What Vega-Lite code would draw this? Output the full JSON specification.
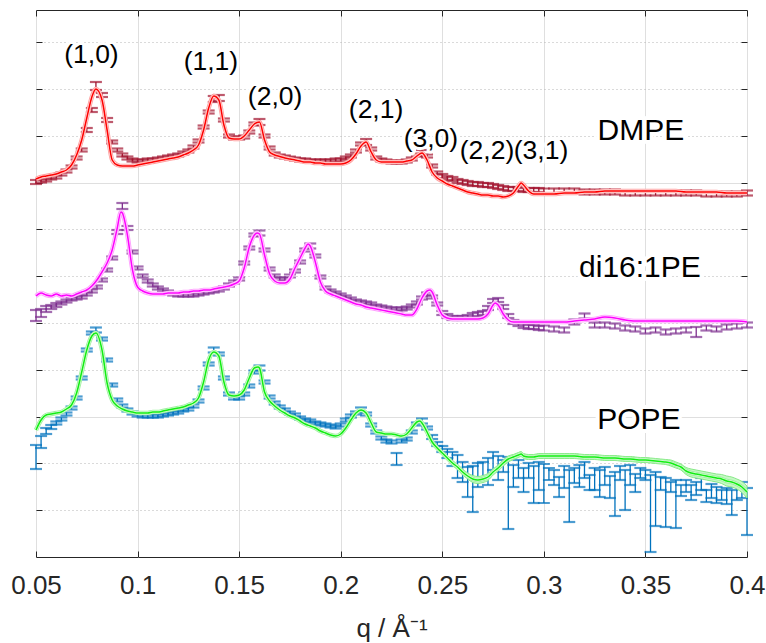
{
"$schema": "https://vega.github.io/schema/vega-lite/v6.json",
"width": 711, "height": 547,
"autosize": {"type": "none"},
"padding": {"left": 36, "top": 10, "right": 19, "bottom": 86},
"background": "white",
"config": {"view": {"stroke": "#262626", "strokeWidth": 1}, "font": "Liberation Sans"},
"data": {"values": [
{"s":"DMPE","q":0.05,"lo":37.3,"hi":37.7,"f":37.8},
{"s":"DMPE","q":0.0525,"lo":37.45,"hi":37.75,"f":38.0},
{"s":"DMPE","q":0.055,"lo":37.55,"hi":37.85,"f":38.1},
{"s":"DMPE","q":0.0575,"lo":37.75,"hi":38.05,"f":38.2},
{"s":"DMPE","q":0.06,"lo":37.85,"hi":38.15,"f":38.3},
{"s":"DMPE","q":0.0625,"lo":38.15,"hi":38.45,"f":38.5},
{"s":"DMPE","q":0.065,"lo":38.45,"hi":38.75,"f":38.7},
{"s":"DMPE","q":0.0675,"lo":38.85,"hi":39.15,"f":39.2},
{"s":"DMPE","q":0.07,"lo":39.75,"hi":40.05,"f":40.2},
{"s":"DMPE","q":0.0725,"lo":40.55,"hi":40.85,"f":41.7},
{"s":"DMPE","q":0.075,"lo":42.5,"hi":42.9,"f":43.9},
{"s":"DMPE","q":0.0775,"lo":44.5,"hi":44.9,"f":46.0},
{"s":"DMPE","q":0.0795,"lo":46.7,"hi":47.5,"f":46.8},
{"s":"DMPE","q":0.0825,"lo":46.0,"hi":46.4,"f":45.7},
{"s":"DMPE","q":0.085,"lo":43.5,"hi":43.9,"f":42.7},
{"s":"DMPE","q":0.0875,"lo":41.35,"hi":41.65,"f":39.7},
{"s":"DMPE","q":0.09,"lo":40.55,"hi":40.85,"f":39.2},
{"s":"DMPE","q":0.0925,"lo":40.05,"hi":40.35,"f":39.1},
{"s":"DMPE","q":0.095,"lo":39.75,"hi":40.05,"f":39.1},
{"s":"DMPE","q":0.0975,"lo":39.55,"hi":39.85,"f":39.1},
{"s":"DMPE","q":0.1,"lo":39.45,"hi":39.75,"f":39.2},
{"s":"DMPE","q":0.1025,"lo":39.45,"hi":39.75,"f":39.3},
{"s":"DMPE","q":0.105,"lo":39.55,"hi":39.85,"f":39.4},
{"s":"DMPE","q":0.1075,"lo":39.55,"hi":39.85,"f":39.5},
{"s":"DMPE","q":0.11,"lo":39.65,"hi":39.95,"f":39.6},
{"s":"DMPE","q":0.1125,"lo":39.75,"hi":40.05,"f":39.7},
{"s":"DMPE","q":0.115,"lo":39.85,"hi":40.15,"f":39.8},
{"s":"DMPE","q":0.1175,"lo":39.95,"hi":40.25,"f":39.9},
{"s":"DMPE","q":0.12,"lo":40.05,"hi":40.35,"f":40.0},
{"s":"DMPE","q":0.1225,"lo":40.25,"hi":40.55,"f":40.2},
{"s":"DMPE","q":0.125,"lo":40.45,"hi":40.75,"f":40.4},
{"s":"DMPE","q":0.1275,"lo":40.85,"hi":41.15,"f":40.7},
{"s":"DMPE","q":0.13,"lo":41.45,"hi":41.75,"f":41.2},
{"s":"DMPE","q":0.1325,"lo":42.85,"hi":43.15,"f":42.7},
{"s":"DMPE","q":0.135,"lo":44.35,"hi":44.65,"f":44.9},
{"s":"DMPE","q":0.1375,"lo":45.5,"hi":46.1,"f":46.1},
{"s":"DMPE","q":0.14,"lo":45.6,"hi":46.2,"f":45.7},
{"s":"DMPE","q":0.1425,"lo":43.55,"hi":43.85,"f":43.2},
{"s":"DMPE","q":0.145,"lo":41.95,"hi":42.25,"f":41.9},
{"s":"DMPE","q":0.1475,"lo":41.75,"hi":42.05,"f":41.8},
{"s":"DMPE","q":0.15,"lo":41.75,"hi":42.05,"f":41.8},
{"s":"DMPE","q":0.1525,"lo":41.85,"hi":42.15,"f":42.1},
{"s":"DMPE","q":0.155,"lo":42.35,"hi":42.65,"f":42.7},
{"s":"DMPE","q":0.1575,"lo":43.15,"hi":43.45,"f":43.3},
{"s":"DMPE","q":0.16,"lo":43.2,"hi":43.8,"f":43.5},
{"s":"DMPE","q":0.1625,"lo":41.95,"hi":42.25,"f":41.7},
{"s":"DMPE","q":0.165,"lo":40.75,"hi":41.05,"f":40.5},
{"s":"DMPE","q":0.1675,"lo":40.15,"hi":40.45,"f":40.2},
{"s":"DMPE","q":0.17,"lo":39.95,"hi":40.25,"f":40.05},
{"s":"DMPE","q":0.1725,"lo":39.85,"hi":40.15,"f":39.9},
{"s":"DMPE","q":0.175,"lo":39.75,"hi":40.05,"f":39.8},
{"s":"DMPE","q":0.1775,"lo":39.65,"hi":39.95,"f":39.7},
{"s":"DMPE","q":0.18,"lo":39.55,"hi":39.85,"f":39.6},
{"s":"DMPE","q":0.1825,"lo":39.55,"hi":39.85,"f":39.5},
{"s":"DMPE","q":0.185,"lo":39.45,"hi":39.75,"f":39.5},
{"s":"DMPE","q":0.1875,"lo":39.45,"hi":39.75,"f":39.4},
{"s":"DMPE","q":0.19,"lo":39.45,"hi":39.75,"f":39.4},
{"s":"DMPE","q":0.1925,"lo":39.45,"hi":39.75,"f":39.3},
{"s":"DMPE","q":0.195,"lo":39.45,"hi":39.75,"f":39.3},
{"s":"DMPE","q":0.1975,"lo":39.55,"hi":39.85,"f":39.3},
{"s":"DMPE","q":0.2,"lo":39.55,"hi":39.85,"f":39.3},
{"s":"DMPE","q":0.2025,"lo":39.75,"hi":40.05,"f":39.4},
{"s":"DMPE","q":0.205,"lo":39.95,"hi":40.25,"f":39.7},
{"s":"DMPE","q":0.2075,"lo":40.45,"hi":40.75,"f":40.3},
{"s":"DMPE","q":0.21,"lo":41.15,"hi":41.45,"f":41.1},
{"s":"DMPE","q":0.2125,"lo":41.2,"hi":41.8,"f":41.5},
{"s":"DMPE","q":0.215,"lo":40.65,"hi":40.95,"f":40.5},
{"s":"DMPE","q":0.2175,"lo":39.75,"hi":40.05,"f":39.7},
{"s":"DMPE","q":0.22,"lo":39.55,"hi":39.85,"f":39.5},
{"s":"DMPE","q":0.2225,"lo":39.45,"hi":39.75,"f":39.5},
{"s":"DMPE","q":0.225,"lo":39.35,"hi":39.65,"f":39.5},
{"s":"DMPE","q":0.2275,"lo":39.35,"hi":39.65,"f":39.5},
{"s":"DMPE","q":0.23,"lo":39.35,"hi":39.65,"f":39.5},
{"s":"DMPE","q":0.2325,"lo":39.45,"hi":39.75,"f":39.6},
{"s":"DMPE","q":0.235,"lo":39.65,"hi":39.95,"f":39.7},
{"s":"DMPE","q":0.2375,"lo":40.05,"hi":40.35,"f":40.1},
{"s":"DMPE","q":0.24,"lo":40.1,"hi":40.7,"f":40.4},
{"s":"DMPE","q":0.2425,"lo":39.95,"hi":40.25,"f":39.7},
{"s":"DMPE","q":0.245,"lo":38.95,"hi":39.25,"f":38.5},
{"s":"DMPE","q":0.2475,"lo":38.25,"hi":38.55,"f":37.9},
{"s":"DMPE","q":0.25,"lo":37.9,"hi":38.3,"f":37.6},
{"s":"DMPE","q":0.2525,"lo":37.7,"hi":38.1,"f":37.3},
{"s":"DMPE","q":0.255,"lo":37.6,"hi":38.0,"f":37.1},
{"s":"DMPE","q":0.2575,"lo":37.4,"hi":37.8,"f":36.9},
{"s":"DMPE","q":0.26,"lo":37.3,"hi":37.7,"f":36.7},
{"s":"DMPE","q":0.2625,"lo":37.2,"hi":37.6,"f":36.5},
{"s":"DMPE","q":0.265,"lo":37.1,"hi":37.5,"f":36.4},
{"s":"DMPE","q":0.2675,"lo":37.1,"hi":37.5,"f":36.3},
{"s":"DMPE","q":0.27,"lo":37.0,"hi":37.4,"f":36.2},
{"s":"DMPE","q":0.2725,"lo":37.0,"hi":37.4,"f":36.2},
{"s":"DMPE","q":0.275,"lo":36.9,"hi":37.3,"f":36.1},
{"s":"DMPE","q":0.2775,"lo":36.8,"hi":37.2,"f":36.1},
{"s":"DMPE","q":0.28,"lo":36.7,"hi":37.1,"f":36.0},
{"s":"DMPE","q":0.2825,"lo":36.6,"hi":37.0,"f":36.1},
{"s":"DMPE","q":0.285,"lo":36.6,"hi":37.0,"f":36.4},
{"s":"DMPE","q":0.2875,"lo":36.6,"hi":37.0,"f":37.1},
{"s":"DMPE","q":0.2888,"f":37.4},
{"s":"DMPE","q":0.29,"lo":36.5,"hi":36.9,"f":37.2},
{"s":"DMPE","q":0.2925,"lo":36.5,"hi":36.9,"f":36.6},
{"s":"DMPE","q":0.295,"lo":36.5,"hi":36.9,"f":36.3},
{"s":"DMPE","q":0.2975,"lo":36.5,"hi":36.9,"f":36.3},
{"s":"DMPE","q":0.3,"lo":36.35,"hi":36.85,"f":36.3},
{"s":"DMPE","q":0.305,"lo":36.35,"hi":36.85,"f":36.3},
{"s":"DMPE","q":0.31,"lo":36.35,"hi":36.85,"f":36.4},
{"s":"DMPE","q":0.315,"lo":36.35,"hi":36.85,"f":36.4},
{"s":"DMPE","q":0.32,"lo":36.25,"hi":36.75,"f":36.5},
{"s":"DMPE","q":0.325,"lo":36.25,"hi":36.75,"f":36.5},
{"s":"DMPE","q":0.33,"lo":36.25,"hi":36.75,"f":36.6},
{"s":"DMPE","q":0.335,"lo":36.25,"hi":36.75,"f":36.6},
{"s":"DMPE","q":0.34,"lo":36.15,"hi":36.65,"f":36.6},
{"s":"DMPE","q":0.345,"lo":36.15,"hi":36.65,"f":36.6},
{"s":"DMPE","q":0.35,"lo":36.15,"hi":36.65,"f":36.6},
{"s":"DMPE","q":0.355,"lo":36.15,"hi":36.65,"f":36.6},
{"s":"DMPE","q":0.36,"lo":36.15,"hi":36.65,"f":36.6},
{"s":"DMPE","q":0.365,"lo":36.15,"hi":36.65,"f":36.6},
{"s":"DMPE","q":0.37,"lo":36.15,"hi":36.65,"f":36.5},
{"s":"DMPE","q":0.375,"lo":36.15,"hi":36.65,"f":36.5},
{"s":"DMPE","q":0.38,"lo":36.05,"hi":36.55,"f":36.5},
{"s":"DMPE","q":0.385,"lo":36.05,"hi":36.55,"f":36.5},
{"s":"DMPE","q":0.39,"lo":36.05,"hi":36.55,"f":36.4},
{"s":"DMPE","q":0.395,"lo":36.05,"hi":36.55,"f":36.4},
{"s":"DMPE","q":0.4,"lo":36.15,"hi":36.65,"f":36.4},
{"s":"di16","q":0.05,"lo":23.6,"hi":24.7,"f":26.1},
{"s":"di16","q":0.0525,"lo":24.0,"hi":24.8,"f":26.4},
{"s":"di16","q":0.055,"lo":24.5,"hi":25.1,"f":26.2},
{"s":"di16","q":0.0575,"lo":24.8,"hi":25.2,"f":26.1},
{"s":"di16","q":0.06,"lo":25.0,"hi":25.4,"f":26.3},
{"s":"di16","q":0.0625,"lo":25.25,"hi":25.55,"f":26.1},
{"s":"di16","q":0.065,"lo":25.45,"hi":25.75,"f":26.2},
{"s":"di16","q":0.0675,"lo":25.65,"hi":25.95,"f":26.1},
{"s":"di16","q":0.07,"lo":25.75,"hi":26.05,"f":26.3},
{"s":"di16","q":0.0725,"lo":25.85,"hi":26.15,"f":26.5},
{"s":"di16","q":0.075,"lo":26.15,"hi":26.45,"f":26.7},
{"s":"di16","q":0.0775,"lo":26.45,"hi":26.75,"f":27.1},
{"s":"di16","q":0.08,"lo":26.85,"hi":27.15,"f":27.7},
{"s":"di16","q":0.0825,"lo":27.55,"hi":27.85,"f":28.5},
{"s":"di16","q":0.085,"lo":28.55,"hi":28.85,"f":29.4},
{"s":"di16","q":0.0875,"lo":29.75,"hi":30.05,"f":30.7},
{"s":"di16","q":0.09,"lo":32.3,"hi":32.7,"f":32.9},
{"s":"di16","q":0.0918,"f":34.5},
{"s":"di16","q":0.0925,"lo":34.8,"hi":35.4,"f":34.4},
{"s":"di16","q":0.095,"lo":32.7,"hi":33.1,"f":32.2},
{"s":"di16","q":0.0975,"lo":30.35,"hi":30.65,"f":28.7},
{"s":"di16","q":0.1,"lo":28.75,"hi":29.05,"f":27.0},
{"s":"di16","q":0.1025,"lo":27.95,"hi":28.25,"f":26.6},
{"s":"di16","q":0.105,"lo":27.45,"hi":27.75,"f":26.4},
{"s":"di16","q":0.1075,"lo":27.05,"hi":27.35,"f":26.3},
{"s":"di16","q":0.11,"lo":26.75,"hi":27.05,"f":26.3},
{"s":"di16","q":0.1125,"lo":26.55,"hi":26.85,"f":26.3},
{"s":"di16","q":0.115,"lo":26.35,"hi":26.65,"f":26.4},
{"s":"di16","q":0.1175,"lo":26.15,"hi":26.45,"f":26.4},
{"s":"di16","q":0.12,"lo":26.05,"hi":26.35,"f":26.4},
{"s":"di16","q":0.1225,"lo":26.05,"hi":26.35,"f":26.5},
{"s":"di16","q":0.125,"lo":26.05,"hi":26.35,"f":26.5},
{"s":"di16","q":0.1275,"lo":26.05,"hi":26.35,"f":26.6},
{"s":"di16","q":0.13,"lo":26.15,"hi":26.45,"f":26.6},
{"s":"di16","q":0.1325,"lo":26.25,"hi":26.55,"f":26.7},
{"s":"di16","q":0.135,"lo":26.35,"hi":26.65,"f":26.7},
{"s":"di16","q":0.1375,"lo":26.45,"hi":26.75,"f":26.8},
{"s":"di16","q":0.14,"lo":26.55,"hi":26.85,"f":26.9},
{"s":"di16","q":0.1425,"lo":26.75,"hi":27.05,"f":27.0},
{"s":"di16","q":0.145,"lo":27.05,"hi":27.35,"f":27.1},
{"s":"di16","q":0.1475,"lo":27.35,"hi":27.65,"f":27.3},
{"s":"di16","q":0.15,"lo":27.65,"hi":27.95,"f":27.6},
{"s":"di16","q":0.1525,"lo":29.25,"hi":29.55,"f":28.9},
{"s":"di16","q":0.155,"lo":30.75,"hi":31.05,"f":31.0},
{"s":"di16","q":0.1575,"lo":32.05,"hi":32.35,"f":32.2},
{"s":"di16","q":0.1588,"f":32.4},
{"s":"di16","q":0.16,"lo":32.15,"hi":32.65,"f":32.3},
{"s":"di16","q":0.1625,"lo":30.55,"hi":30.85,"f":30.2},
{"s":"di16","q":0.165,"lo":28.65,"hi":28.95,"f":28.3},
{"s":"di16","q":0.1675,"lo":27.95,"hi":28.25,"f":27.6},
{"s":"di16","q":0.17,"lo":27.65,"hi":27.95,"f":27.4},
{"s":"di16","q":0.1725,"lo":27.65,"hi":27.95,"f":27.4},
{"s":"di16","q":0.175,"lo":27.95,"hi":28.25,"f":27.8},
{"s":"di16","q":0.1775,"lo":28.45,"hi":28.75,"f":28.9},
{"s":"di16","q":0.18,"lo":29.35,"hi":29.65,"f":29.9},
{"s":"di16","q":0.1825,"lo":30.55,"hi":30.85,"f":30.9},
{"s":"di16","q":0.1839,"f":31.3},
{"s":"di16","q":0.185,"lo":30.85,"hi":31.35,"f":31.1},
{"s":"di16","q":0.1875,"lo":29.95,"hi":30.25,"f":29.5},
{"s":"di16","q":0.19,"lo":27.85,"hi":28.15,"f":27.5},
{"s":"di16","q":0.1925,"lo":26.75,"hi":27.05,"f":26.6},
{"s":"di16","q":0.195,"lo":26.45,"hi":26.75,"f":26.3},
{"s":"di16","q":0.1975,"lo":26.25,"hi":26.55,"f":26.1},
{"s":"di16","q":0.2,"lo":26.05,"hi":26.35,"f":25.9},
{"s":"di16","q":0.2025,"lo":25.85,"hi":26.15,"f":25.7},
{"s":"di16","q":0.205,"lo":25.65,"hi":25.95,"f":25.5},
{"s":"di16","q":0.2075,"lo":25.45,"hi":25.75,"f":25.3},
{"s":"di16","q":0.21,"lo":25.35,"hi":25.65,"f":25.2},
{"s":"di16","q":0.2125,"lo":25.25,"hi":25.55,"f":25.0},
{"s":"di16","q":0.215,"lo":25.15,"hi":25.45,"f":24.9},
{"s":"di16","q":0.2175,"lo":24.95,"hi":25.25,"f":24.8},
{"s":"di16","q":0.22,"lo":24.85,"hi":25.15,"f":24.7},
{"s":"di16","q":0.2225,"lo":24.75,"hi":25.05,"f":24.6},
{"s":"di16","q":0.225,"lo":24.65,"hi":24.95,"f":24.5},
{"s":"di16","q":0.2275,"lo":24.65,"hi":24.95,"f":24.4},
{"s":"di16","q":0.23,"lo":24.65,"hi":24.95,"f":24.3},
{"s":"di16","q":0.2325,"lo":24.75,"hi":25.05,"f":24.2},
{"s":"di16","q":0.235,"lo":24.95,"hi":25.25,"f":24.2},
{"s":"di16","q":0.2375,"lo":25.25,"hi":25.55,"f":24.8},
{"s":"di16","q":0.24,"lo":25.75,"hi":26.05,"f":25.9},
{"s":"di16","q":0.2425,"lo":26.15,"hi":26.45,"f":26.6},
{"s":"di16","q":0.244,"f":26.7},
{"s":"di16","q":0.245,"lo":25.85,"hi":26.15,"f":26.5},
{"s":"di16","q":0.2475,"lo":25.15,"hi":25.45,"f":25.2},
{"s":"di16","q":0.25,"lo":24.2,"hi":24.6,"f":24.2},
{"s":"di16","q":0.2525,"lo":23.9,"hi":24.3,"f":23.9},
{"s":"di16","q":0.255,"lo":23.7,"hi":24.1,"f":23.8},
{"s":"di16","q":0.2575,"lo":23.7,"hi":24.1,"f":23.8},
{"s":"di16","q":0.26,"lo":23.7,"hi":24.1,"f":23.8},
{"s":"di16","q":0.2625,"lo":23.8,"hi":24.2,"f":23.8},
{"s":"di16","q":0.265,"lo":24.0,"hi":24.4,"f":23.8},
{"s":"di16","q":0.2675,"lo":24.1,"hi":24.5,"f":23.8},
{"s":"di16","q":0.27,"lo":24.2,"hi":24.6,"f":23.9},
{"s":"di16","q":0.2725,"lo":24.7,"hi":25.1,"f":24.3},
{"s":"di16","q":0.275,"lo":25.4,"hi":25.8,"f":25.2},
{"s":"di16","q":0.276,"f":25.4},
{"s":"di16","q":0.2775,"lo":25.5,"hi":25.9,"f":25.2},
{"s":"di16","q":0.28,"lo":24.8,"hi":25.2,"f":24.3},
{"s":"di16","q":0.2825,"lo":23.9,"hi":24.3,"f":23.7},
{"s":"di16","q":0.285,"lo":23.3,"hi":23.7,"f":23.5},
{"s":"di16","q":0.2875,"lo":23.1,"hi":23.5,"f":23.5},
{"s":"di16","q":0.29,"lo":22.9,"hi":23.3,"f":23.5},
{"s":"di16","q":0.2925,"lo":22.8,"hi":23.2,"f":23.5},
{"s":"di16","q":0.295,"lo":22.8,"hi":23.2,"f":23.5},
{"s":"di16","q":0.2975,"lo":22.7,"hi":23.1,"f":23.5},
{"s":"di16","q":0.3,"lo":22.65,"hi":23.15,"f":23.5},
{"s":"di16","q":0.305,"lo":22.55,"hi":23.05,"f":23.5},
{"s":"di16","q":0.31,"lo":22.45,"hi":22.95,"f":23.5},
{"s":"di16","q":0.315,"lo":23.25,"hi":23.75,"f":23.6},
{"s":"di16","q":0.32,"lo":23.85,"hi":24.35,"f":23.7},
{"s":"di16","q":0.325,"lo":22.95,"hi":23.45,"f":23.8},
{"s":"di16","q":0.33,"lo":22.95,"hi":23.45,"f":24.0},
{"s":"di16","q":0.335,"lo":22.85,"hi":23.35,"f":23.9},
{"s":"di16","q":0.34,"lo":22.65,"hi":23.15,"f":23.7},
{"s":"di16","q":0.345,"lo":22.55,"hi":23.05,"f":23.6},
{"s":"di16","q":0.35,"lo":22.35,"hi":22.85,"f":23.6},
{"s":"di16","q":0.355,"lo":22.45,"hi":22.95,"f":23.6},
{"s":"di16","q":0.36,"lo":22.25,"hi":22.75,"f":23.6},
{"s":"di16","q":0.365,"lo":22.35,"hi":22.85,"f":23.6},
{"s":"di16","q":0.37,"lo":22.45,"hi":22.95,"f":23.6},
{"s":"di16","q":0.375,"lo":22.0,"hi":23.0,"f":23.6},
{"s":"di16","q":0.38,"lo":22.65,"hi":23.15,"f":23.6},
{"s":"di16","q":0.385,"lo":22.55,"hi":23.05,"f":23.6},
{"s":"di16","q":0.39,"lo":22.75,"hi":23.25,"f":23.6},
{"s":"di16","q":0.395,"lo":22.85,"hi":23.35,"f":23.6},
{"s":"di16","q":0.4,"lo":22.95,"hi":23.45,"f":23.5},
{"s":"POPE","q":0.05,"lo":8.8,"hi":11.2,"f":12.7},
{"s":"POPE","q":0.0525,"lo":10.9,"hi":12.1,"f":13.7},
{"s":"POPE","q":0.055,"lo":12.3,"hi":12.9,"f":14.2},
{"s":"POPE","q":0.0575,"lo":12.8,"hi":13.2,"f":14.3},
{"s":"POPE","q":0.06,"lo":13.25,"hi":13.55,"f":14.4},
{"s":"POPE","q":0.0625,"lo":13.65,"hi":13.95,"f":14.5},
{"s":"POPE","q":0.065,"lo":14.15,"hi":14.45,"f":14.8},
{"s":"POPE","q":0.0675,"lo":14.75,"hi":15.05,"f":15.2},
{"s":"POPE","q":0.07,"lo":15.75,"hi":16.05,"f":16.4},
{"s":"POPE","q":0.0725,"lo":17.75,"hi":18.05,"f":18.5},
{"s":"POPE","q":0.075,"lo":20.55,"hi":20.85,"f":20.7},
{"s":"POPE","q":0.0775,"lo":22.25,"hi":22.55,"f":22.1},
{"s":"POPE","q":0.0795,"lo":22.45,"hi":22.95,"f":22.4},
{"s":"POPE","q":0.0825,"lo":21.65,"hi":21.95,"f":20.7},
{"s":"POPE","q":0.085,"lo":19.55,"hi":19.85,"f":17.4},
{"s":"POPE","q":0.0875,"lo":17.05,"hi":17.35,"f":15.7},
{"s":"POPE","q":0.09,"lo":15.55,"hi":15.85,"f":15.1},
{"s":"POPE","q":0.0925,"lo":14.95,"hi":15.25,"f":14.8},
{"s":"POPE","q":0.095,"lo":14.55,"hi":14.85,"f":14.6},
{"s":"POPE","q":0.0975,"lo":14.25,"hi":14.55,"f":14.5},
{"s":"POPE","q":0.1,"lo":14.05,"hi":14.35,"f":14.4},
{"s":"POPE","q":0.1025,"lo":13.95,"hi":14.25,"f":14.4},
{"s":"POPE","q":0.105,"lo":13.95,"hi":14.25,"f":14.4},
{"s":"POPE","q":0.1075,"lo":13.95,"hi":14.25,"f":14.5},
{"s":"POPE","q":0.11,"lo":13.95,"hi":14.25,"f":14.5},
{"s":"POPE","q":0.1125,"lo":14.05,"hi":14.35,"f":14.6},
{"s":"POPE","q":0.115,"lo":14.15,"hi":14.45,"f":14.7},
{"s":"POPE","q":0.1175,"lo":14.25,"hi":14.55,"f":14.8},
{"s":"POPE","q":0.12,"lo":14.35,"hi":14.65,"f":14.9},
{"s":"POPE","q":0.1225,"lo":14.55,"hi":14.85,"f":15.0},
{"s":"POPE","q":0.125,"lo":14.65,"hi":14.95,"f":15.2},
{"s":"POPE","q":0.1275,"lo":14.95,"hi":15.25,"f":15.4},
{"s":"POPE","q":0.13,"lo":15.45,"hi":15.75,"f":15.9},
{"s":"POPE","q":0.1325,"lo":16.75,"hi":17.05,"f":17.5},
{"s":"POPE","q":0.135,"lo":19.15,"hi":19.45,"f":19.7},
{"s":"POPE","q":0.1375,"lo":20.45,"hi":20.95,"f":20.5},
{"s":"POPE","q":0.14,"lo":20.15,"hi":20.45,"f":20.1},
{"s":"POPE","q":0.1425,"lo":17.75,"hi":18.05,"f":17.5},
{"s":"POPE","q":0.145,"lo":16.15,"hi":16.45,"f":16.2},
{"s":"POPE","q":0.1475,"lo":15.75,"hi":16.05,"f":16.1},
{"s":"POPE","q":0.15,"lo":15.75,"hi":16.05,"f":16.2},
{"s":"POPE","q":0.1525,"lo":16.15,"hi":16.45,"f":16.7},
{"s":"POPE","q":0.155,"lo":16.95,"hi":17.25,"f":17.9},
{"s":"POPE","q":0.1575,"lo":18.35,"hi":18.65,"f":18.9},
{"s":"POPE","q":0.1593,"f":19.0},
{"s":"POPE","q":0.16,"lo":18.65,"hi":19.15,"f":18.9},
{"s":"POPE","q":0.1625,"lo":17.35,"hi":17.65,"f":16.5},
{"s":"POPE","q":0.165,"lo":15.85,"hi":16.15,"f":15.6},
{"s":"POPE","q":0.1675,"lo":15.25,"hi":15.55,"f":15.1},
{"s":"POPE","q":0.17,"lo":14.85,"hi":15.15,"f":14.7},
{"s":"POPE","q":0.1725,"lo":14.55,"hi":14.85,"f":14.4},
{"s":"POPE","q":0.175,"lo":14.25,"hi":14.55,"f":14.1},
{"s":"POPE","q":0.1775,"lo":14.05,"hi":14.35,"f":13.9},
{"s":"POPE","q":0.18,"lo":13.75,"hi":14.05,"f":13.6},
{"s":"POPE","q":0.1825,"lo":13.55,"hi":13.85,"f":13.3},
{"s":"POPE","q":0.185,"lo":13.45,"hi":13.75,"f":13.1},
{"s":"POPE","q":0.1875,"lo":13.25,"hi":13.55,"f":12.9},
{"s":"POPE","q":0.19,"lo":13.15,"hi":13.45,"f":12.6},
{"s":"POPE","q":0.1925,"lo":13.05,"hi":13.35,"f":12.4},
{"s":"POPE","q":0.195,"lo":12.95,"hi":13.25,"f":12.2},
{"s":"POPE","q":0.1975,"lo":12.85,"hi":13.15,"f":12.1},
{"s":"POPE","q":0.2,"lo":13.05,"hi":13.35,"f":12.3},
{"s":"POPE","q":0.2025,"lo":13.55,"hi":13.85,"f":12.9},
{"s":"POPE","q":0.205,"lo":13.95,"hi":14.25,"f":13.7},
{"s":"POPE","q":0.2075,"lo":14.25,"hi":14.55,"f":14.4},
{"s":"POPE","q":0.21,"lo":14.45,"hi":14.95,"f":14.7},
{"s":"POPE","q":0.2125,"lo":14.15,"hi":14.45,"f":14.4},
{"s":"POPE","q":0.215,"lo":13.05,"hi":13.35,"f":13.4},
{"s":"POPE","q":0.2175,"lo":12.35,"hi":12.65,"f":12.5},
{"s":"POPE","q":0.22,"lo":11.75,"hi":12.05,"f":12.4},
{"s":"POPE","q":0.2225,"lo":11.45,"hi":11.75,"f":12.3},
{"s":"POPE","q":0.225,"lo":11.35,"hi":11.65,"f":12.3},
{"s":"POPE","q":0.2275,"lo":9.2,"hi":10.4,"f":12.2},
{"s":"POPE","q":0.23,"lo":11.45,"hi":11.75,"f":12.1},
{"s":"POPE","q":0.2325,"lo":11.65,"hi":11.95,"f":12.3},
{"s":"POPE","q":0.235,"lo":12.35,"hi":12.65,"f":12.9},
{"s":"POPE","q":0.2375,"lo":13.15,"hi":13.45,"f":13.5},
{"s":"POPE","q":0.239,"f":13.6},
{"s":"POPE","q":0.24,"lo":13.35,"hi":13.85,"f":13.4},
{"s":"POPE","q":0.2425,"lo":12.75,"hi":13.05,"f":12.5},
{"s":"POPE","q":0.245,"lo":11.8,"hi":12.2,"f":11.5},
{"s":"POPE","q":0.2475,"lo":11.1,"hi":11.5,"f":10.9},
{"s":"POPE","q":0.25,"lo":10.5,"hi":11.1,"f":10.4,"fl":10.2,"fh":10.6},
{"s":"POPE","q":0.2525,"lo":9.9,"hi":10.8,"f":9.9,"fl":9.7,"fh":10.1},
{"s":"POPE","q":0.255,"lo":9.1,"hi":10.5,"f":9.4,"fl":9.15,"fh":9.65},
{"s":"POPE","q":0.2575,"lo":7.9,"hi":10.2,"f":9.0,"fl":8.75,"fh":9.25},
{"s":"POPE","q":0.26,"lo":7.5,"hi":9.5,"f":8.5,"fl":8.2,"fh":8.8},
{"s":"POPE","q":0.2625,"lo":6.0,"hi":9.0,"f":8.1,"fl":7.8,"fh":8.4},
{"s":"POPE","q":0.265,"lo":4.5,"hi":9.1,"f":7.8,"fl":7.45,"fh":8.15},
{"s":"POPE","q":0.2675,"lo":7.0,"hi":9.4,"f":7.7,"fl":7.35,"fh":8.05},
{"s":"POPE","q":0.27,"lo":7.8,"hi":9.5,"f":7.8,"fl":7.45,"fh":8.15},
{"s":"POPE","q":0.2725,"lo":7.2,"hi":9.9,"f":8.0,"fl":7.65,"fh":8.35},
{"s":"POPE","q":0.275,"lo":8.7,"hi":10.5,"f":8.5,"fl":8.2,"fh":8.8},
{"s":"POPE","q":0.2775,"lo":7.7,"hi":10.1,"f":8.9,"fl":8.6,"fh":9.2},
{"s":"POPE","q":0.28,"lo":8.5,"hi":9.7,"f":9.4,"fl":9.1,"fh":9.7},
{"s":"POPE","q":0.2825,"lo":2.8,"hi":10.0,"f":9.8,"fl":9.5,"fh":10.1},
{"s":"POPE","q":0.285,"lo":7.0,"hi":9.2,"f":10.0,"fl":9.75,"fh":10.25},
{"s":"POPE","q":0.2875,"lo":7.9,"hi":9.7,"f":10.2,"fl":9.95,"fh":10.45},
{"s":"POPE","q":0.2888,"f":10.3,"fl":10.05,"fh":10.55},
{"s":"POPE","q":0.29,"lo":6.5,"hi":8.9,"f":10.1,"fl":9.85,"fh":10.35},
{"s":"POPE","q":0.2925,"lo":7.9,"hi":9.4,"f":10.0,"fl":9.75,"fh":10.25},
{"s":"POPE","q":0.295,"lo":5.4,"hi":9.1,"f":10.0,"fl":9.75,"fh":10.25},
{"s":"POPE","q":0.2975,"lo":6.7,"hi":9.5,"f":10.1,"fl":9.85,"fh":10.35},
{"s":"POPE","q":0.3,"lo":5.4,"hi":9.3,"f":10.1,"fl":9.85,"fh":10.35},
{"s":"POPE","q":0.3025,"lo":7.7,"hi":8.9,"f":10.1,"fl":9.85,"fh":10.35},
{"s":"POPE","q":0.305,"lo":7.2,"hi":8.7,"f":10.1,"fl":9.85,"fh":10.35},
{"s":"POPE","q":0.3075,"lo":6.0,"hi":8.0,"f":10.1,"fl":9.85,"fh":10.35},
{"s":"POPE","q":0.31,"lo":6.9,"hi":9.1,"f":10.1,"fl":9.85,"fh":10.35},
{"s":"POPE","q":0.3125,"lo":3.5,"hi":8.7,"f":10.1,"fl":9.85,"fh":10.35},
{"s":"POPE","q":0.315,"lo":7.4,"hi":8.9,"f":10.1,"fl":9.85,"fh":10.35},
{"s":"POPE","q":0.3175,"lo":7.0,"hi":9.2,"f":10.05,"fl":9.8,"fh":10.3},
{"s":"POPE","q":0.32,"lo":7.9,"hi":9.5,"f":10.0,"fl":9.75,"fh":10.25},
{"s":"POPE","q":0.3225,"lo":6.7,"hi":8.2,"f":10.0,"fl":9.75,"fh":10.25},
{"s":"POPE","q":0.325,"lo":6.7,"hi":8.9,"f":10.0,"fl":9.75,"fh":10.25},
{"s":"POPE","q":0.3275,"lo":6.0,"hi":8.7,"f":9.95,"fl":9.7,"fh":10.2},
{"s":"POPE","q":0.33,"lo":7.2,"hi":9.0,"f":9.9,"fl":9.65,"fh":10.15},
{"s":"POPE","q":0.3325,"lo":5.9,"hi":8.1,"f":9.9,"fl":9.65,"fh":10.15},
{"s":"POPE","q":0.335,"lo":4.1,"hi":8.5,"f":9.9,"fl":9.65,"fh":10.15},
{"s":"POPE","q":0.3375,"lo":7.7,"hi":9.1,"f":9.85,"fl":9.6,"fh":10.1},
{"s":"POPE","q":0.34,"lo":4.7,"hi":8.7,"f":9.8,"fl":9.55,"fh":10.05},
{"s":"POPE","q":0.3425,"lo":7.2,"hi":9.2,"f":9.8,"fl":9.55,"fh":10.05},
{"s":"POPE","q":0.345,"lo":6.5,"hi":8.3,"f":9.75,"fl":9.5,"fh":10.0},
{"s":"POPE","q":0.3475,"lo":7.9,"hi":8.9,"f":9.7,"fl":9.45,"fh":9.95},
{"s":"POPE","q":0.35,"lo":7.7,"hi":8.7,"f":9.7,"fl":9.45,"fh":9.95},
{"s":"POPE","q":0.3525,"lo":0.5,"hi":8.2,"f":9.65,"fl":9.4,"fh":9.9},
{"s":"POPE","q":0.355,"lo":3.1,"hi":8.5,"f":9.6,"fl":9.35,"fh":9.85},
{"s":"POPE","q":0.3575,"lo":6.7,"hi":8.0,"f":9.55,"fl":9.3,"fh":9.8},
{"s":"POPE","q":0.36,"lo":3.0,"hi":7.9,"f":9.5,"fl":9.25,"fh":9.75},
{"s":"POPE","q":0.3625,"lo":6.5,"hi":7.5,"f":9.4,"fl":9.1,"fh":9.7},
{"s":"POPE","q":0.365,"lo":2.9,"hi":7.7,"f":9.2,"fl":8.9,"fh":9.5},
{"s":"POPE","q":0.3675,"lo":6.1,"hi":7.2,"f":9.0,"fl":8.7,"fh":9.3},
{"s":"POPE","q":0.37,"lo":6.5,"hi":7.7,"f":8.6,"fl":8.25,"fh":8.95},
{"s":"POPE","q":0.3725,"lo":5.7,"hi":7.2,"f":8.4,"fl":8.0,"fh":8.8},
{"s":"POPE","q":0.375,"lo":6.2,"hi":7.5,"f":8.3,"fl":7.9,"fh":8.7},
{"s":"POPE","q":0.3775,"lo":6.7,"hi":7.9,"f":8.2,"fl":7.8,"fh":8.6},
{"s":"POPE","q":0.38,"lo":5.5,"hi":6.7,"f":8.1,"fl":7.7,"fh":8.5},
{"s":"POPE","q":0.3825,"lo":5.9,"hi":7.3,"f":8.0,"fl":7.6,"fh":8.4},
{"s":"POPE","q":0.385,"lo":5.4,"hi":7.0,"f":7.9,"fl":7.5,"fh":8.3},
{"s":"POPE","q":0.3875,"lo":5.7,"hi":6.7,"f":7.8,"fl":7.35,"fh":8.25},
{"s":"POPE","q":0.39,"lo":5.3,"hi":6.9,"f":7.6,"fl":7.1,"fh":8.1},
{"s":"POPE","q":0.3925,"lo":4.2,"hi":6.7,"f":7.5,"fl":7.0,"fh":8.0},
{"s":"POPE","q":0.395,"lo":5.7,"hi":7.1,"f":7.3,"fl":6.8,"fh":7.8},
{"s":"POPE","q":0.3975,"lo":5.9,"hi":7.5,"f":7.0,"fl":6.45,"fh":7.55},
{"s":"POPE","q":0.4,"lo":2.2,"hi":6.9,"f":6.5,"fl":5.9,"fh":7.1}
]},
"layer": [
{"mark": {"type": "rule", "strokeWidth": 1.3},
 "encoding": {
  "x": {"field": "q", "type": "quantitative", "scale": {"domain": [0.05, 0.4], "nice": false, "zero": false},
        "axis": {"orient": "bottom", "values": [0.05,0.1,0.15,0.2,0.25,0.3,0.35,0.4], "format": "~g",
                 "labelFont": "Liberation Sans", "labelFontSize": 26, "labelColor": "#262626", "labelPadding": 21,
                 "labelFlush": false, "labelOverlap": false,
                 "ticks": true, "tickSize": -6, "tickColor": "#262626", "tickWidth": 1, "domain": false,
                 "grid": true, "gridColor": "#dfdfdf", "gridWidth": 1,
                 "title": "q / Å⁻¹", "titleFont": "Liberation Sans", "titleFontSize": 26, "titleFontWeight": "normal",
                 "titleColor": "#262626", "titlePadding": 17}},
  "y": {"field": "lo", "type": "quantitative", "scale": {"domain": [0, 54.7], "nice": false, "zero": false},
        "axis": {"orient": "left", "values": [4.68,9.36,14.04,18.72,23.4,28.08,32.76,37.44,42.12,46.8,51.48],
                 "labels": false, "ticks": true, "tickSize": -6, "tickColor": "#262626", "domain": false, "title": null,
                 "grid": true, "gridWidth": 1,
                 "gridColor": {"condition": {"test": "abs(datum.value-14.04)<0.01 || abs(datum.value-37.44)<0.01", "value": "#dfdfdf"}, "value": "#b5b5b5"},
                 "gridDash": {"condition": {"test": "abs(datum.value-14.04)<0.01 || abs(datum.value-37.44)<0.01", "value": []}, "value": [1, 3]}}},
  "y2": {"field": "hi"},
  "color": {"field": "s", "type": "nominal", "scale": {"domain": ["DMPE","di16","POPE"], "range": ["#A2142F","#7E2F8E","#0072BD"]}, "legend": null}
 }},
{"mark": {"type": "tick", "orient": "horizontal", "size": 12, "thickness": 2.2},
 "encoding": {
  "x": {"field": "q", "type": "quantitative", "axis": null},
  "y": {"field": "lo", "type": "quantitative", "axis": null},
  "color": {"field": "s", "type": "nominal", "scale": {"domain": ["DMPE","di16","POPE"], "range": ["#A2142F","#7E2F8E","#0072BD"]}, "legend": null}
 }},
{"mark": {"type": "tick", "orient": "horizontal", "size": 12, "thickness": 2.2},
 "encoding": {
  "x": {"field": "q", "type": "quantitative", "axis": null},
  "y": {"field": "hi", "type": "quantitative", "axis": null},
  "color": {"field": "s", "type": "nominal", "scale": {"domain": ["DMPE","di16","POPE"], "range": ["#A2142F","#7E2F8E","#0072BD"]}, "legend": null}
 }},
{"transform": [{"filter": "isValid(datum.fl)"}],
 "mark": {"type": "area", "color": "#c6f7c6", "stroke": "#86ea86", "strokeWidth": 1, "interpolate": "monotone"},
 "encoding": {
  "x": {"field": "q", "type": "quantitative", "axis": null},
  "y": {"field": "fl", "type": "quantitative", "axis": null},
  "y2": {"field": "fh"}
 }},
{"mark": {"type": "line", "strokeWidth": 4.5, "interpolate": "monotone"},
 "encoding": {
  "x": {"field": "q", "type": "quantitative", "axis": null},
  "y": {"field": "f", "type": "quantitative", "axis": null},
  "color": {"field": "s", "type": "nominal", "scale": {"domain": ["DMPE","di16","POPE"], "range": ["#ffa0a0","#ffa0ff","#a0f2a0"]}, "legend": null}
 }},
{"mark": {"type": "line", "strokeWidth": 2.8, "interpolate": "monotone"},
 "encoding": {
  "x": {"field": "q", "type": "quantitative", "axis": null},
  "y": {"field": "f", "type": "quantitative", "axis": null},
  "color": {"field": "s", "type": "nominal", "scale": {"domain": ["DMPE","di16","POPE"], "range": ["#ffdcdc","#ffdcff","#dcfadc"]}, "legend": null}
 }},
{"mark": {"type": "line", "strokeWidth": 1.5, "interpolate": "monotone"},
 "encoding": {
  "x": {"field": "q", "type": "quantitative", "axis": null},
  "y": {"field": "f", "type": "quantitative", "axis": null},
  "color": {"field": "s", "type": "nominal", "scale": {"domain": ["DMPE","di16","POPE"], "range": ["#ff0000","#ff00ff","#11ee11"]}, "legend": null}
 }},
{"data": {"values": [
  {"t": "(1,0)", "q": 0.0773, "u": 50.2, "k": "peak"},
  {"t": "(1,1)", "q": 0.1361, "u": 49.5, "k": "peak"},
  {"t": "(2,0)", "q": 0.1677, "u": 46.0, "k": "peak"},
  {"t": "(2,1)", "q": 0.2174, "u": 44.7, "k": "peak"},
  {"t": "(3,0)", "q": 0.2444, "u": 41.8, "k": "peak"},
  {"t": "(2,2)", "q": 0.2720, "u": 40.6, "k": "peak"},
  {"t": "(3,1)", "q": 0.2986, "u": 40.6, "k": "peak"},
  {"t": "DMPE", "q": 0.3478, "u": 42.65, "k": "name"},
  {"t": "di16:1PE", "q": 0.3473, "u": 28.9, "k": "name"},
  {"t": "POPE", "q": 0.3468, "u": 13.75, "k": "name"}
 ]},
 "layer": [
  {"transform": [{"filter": "datum.k === 'peak'"}],
   "mark": {"type": "text", "font": "Liberation Sans", "fontSize": 26.5, "align": "center", "baseline": "middle", "fill": "white", "stroke": "white", "strokeWidth": 6, "strokeJoin": "round"},
   "encoding": {"x": {"field": "q", "type": "quantitative", "axis": null}, "y": {"field": "u", "type": "quantitative", "axis": null}, "text": {"field": "t"}}},
  {"transform": [{"filter": "datum.k === 'peak'"}],
   "mark": {"type": "text", "font": "Liberation Sans", "fontSize": 26.5, "align": "center", "baseline": "middle", "fill": "black"},
   "encoding": {"x": {"field": "q", "type": "quantitative", "axis": null}, "y": {"field": "u", "type": "quantitative", "axis": null}, "text": {"field": "t"}}},
  {"transform": [{"filter": "datum.k === 'name'"}],
   "mark": {"type": "text", "font": "Liberation Sans", "fontSize": 30, "align": "center", "baseline": "middle", "fill": "white", "stroke": "white", "strokeWidth": 8, "strokeJoin": "round"},
   "encoding": {"x": {"field": "q", "type": "quantitative", "axis": null}, "y": {"field": "u", "type": "quantitative", "axis": null}, "text": {"field": "t"}}},
  {"transform": [{"filter": "datum.k === 'name'"}],
   "mark": {"type": "text", "font": "Liberation Sans", "fontSize": 30, "align": "center", "baseline": "middle", "fill": "black"},
   "encoding": {"x": {"field": "q", "type": "quantitative", "axis": null}, "y": {"field": "u", "type": "quantitative", "axis": null}, "text": {"field": "t"}}}
 ]},
{"mark": {"type": "point", "opacity": 0},
 "encoding": {
  "x": {"field": "q", "type": "quantitative",
        "axis": {"orient": "top", "values": [0.05,0.1,0.15,0.2,0.25,0.3,0.35,0.4], "labels": false, "ticks": true, "tickSize": -6, "tickColor": "#262626", "domain": false, "grid": false, "title": null}},
  "y": {"field": "f", "type": "quantitative",
        "axis": {"orient": "right", "values": [4.68,9.36,14.04,18.72,23.4,28.08,32.76,37.44,42.12,46.8,51.48], "labels": false, "ticks": true, "tickSize": -6, "tickColor": "#262626", "domain": false, "grid": false, "title": null}}
 }}
],
"resolve": {"scale": {"color": "independent"}, "axis": {"x": "independent", "y": "independent"}}
}
